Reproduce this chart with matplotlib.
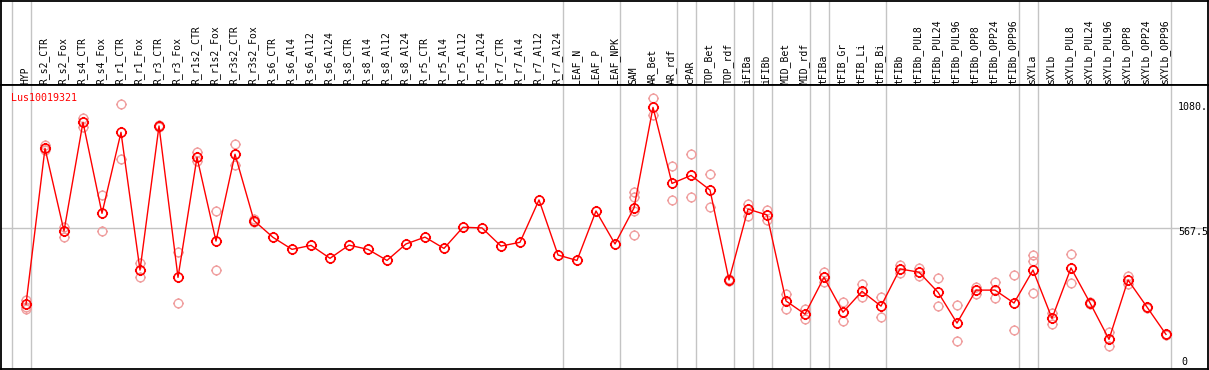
import matplotlib
matplotlib.use("Agg")
from matplotlib import pyplot as plt
from matplotlib.path import Path
import numpy as np

gene = "Lus10019321"

samples = ["HYP", "R_s2_CTR", "R_s2_Fox", "R_s4_CTR", "R_s4_Fox", "R_r1_CTR", "R_r1_Fox",
           "R_r3_CTR", "R_r3_Fox", "R_r1s2_CTR", "R_r1s2_Fox", "R_r3s2_CTR", "R_r3s2_Fox",
           "R_s6_CTR", "R_s6_Al4", "R_s6_Al12", "R_s6_Al24", "R_s8_CTR", "R_s8_Al4",
           "R_s8_Al12", "R_s8_Al24", "R_r5_CTR", "R_r5_Al4", "R_r5_Al12", "R_r5_Al24",
           "R_r7_CTR", "R_r7_Al4", "R_r7_Al12", "R_r7_Al24", "LEAF_N", "LEAF_P", "LEAF_NPK",
           "SAM", "AR_Bet", "AR_rdf", "cPAR", "TOP_Bet", "TOP_rdf", "iFIBa", "iFIBb",
           "MID_Bet", "MID_rdf", "tFIBa", "tFIB_Gr", "tFIB_Li", "tFIB_Bi", "tFIBb",
           "tFIBb_PUL8", "tFIBb_PUL24", "tFIBb_PUL96", "tFIBb_OPP8", "tFIBb_OPP24",
           "tFIBb_OPP96", "sXYLa", "sXYLb", "sXYLb_PUL8", "sXYLb_PUL24", "sXYLb_PUL96",
           "sXYLb_OPP8", "sXYLb_OPP24", "sXYLb_OPP96"]

# mean expression per sample
means = [244, 906, 555, 1017, 630, 974, 389, 1001, 358, 868, 512, 881, 599,
         528, 477, 494, 439, 495, 477, 430, 500, 529, 481, 571, 568, 491, 507, 687, 453,
         430, 640, 500, 653, 1080, 757, 791, 729, 347, 648, 623, 258, 202, 358, 210,
         299, 236, 394, 380, 295, 164, 304, 304, 249, 389, 184, 398, 250, 95, 347, 232, 116]

# replicate values (only the ones visible apart from the mean)
reps = [[262, 233, 224], [920, 899], [573, 531], [1036, 998], [706, 554], [1093, 859],
        [418, 361], [1003, 995], [464, 248], [890, 852], [639, 388], [923, 835], [604, 593],
        [], [], [], [], [], [], [], [], [], [], [], [], [], [], [], [], [], [], [],
        [722, 700, 641, 538], [1118, 1048], [830, 685], [881, 698], [797, 657], [353, 341],
        [671, 619], [644, 602], [287, 225], [225, 180], [381, 340], [252, 171], [330, 276],
        [275, 188], [412, 377], [399, 362], [354, 235], [241, 87], [317, 289], [338, 269],
        [368, 135], [453, 426, 292], [205, 159], [457, 334], [254, 245], [126, 68],
        [364, 330], [234, 230], [118, 114]]

# group separators drawn after these sample indices
groups_after = [-1, 0, 28, 31, 34, 35, 37, 38, 39, 41, 42, 45, 52, 53, 60]

axis_labels = [(1080, "1080."), (567.5, "567.5"), (0, "0")]

# gear like marker: circle with four small ticks
circ = Path.unit_circle()
ticks = Path([(0, 1), (0, 1.25), (0, -1), (0, -1.25), (1, 0), (1.25, 0), (-1, 0), (-1.25, 0)],
             [Path.MOVETO, Path.LINETO] * 4)
gear = Path.make_compound_path(circ, ticks)

W, H = 1209, 370
fig = plt.figure(figsize=(W / 100, H / 100), dpi=100)
mono = "DejaVu Sans Mono"

def px(x0, y0, x1, y1):
    return [x0 / W, 1 - y1 / H, (x1 - x0) / W, (y1 - y0) / H]

xl = ((1 - 26) / 19, (1208 - 26) / 19)

head = fig.add_axes(px(1, 0.6, 1208, 85))
ax = fig.add_axes(px(1, 85, 1208, 369))
for a in (head, ax):
    a.set_xlim(*xl)
    a.set_xticks([])
    a.set_yticks([])
    for s in a.spines.values():
        s.set_linewidth(1.3)
        s.set_color("black")
head.set_ylim(85, 0)
ax.set_ylim((361.7 - 369) / 0.2355, (361.7 - 85) / 0.2355)

x = np.arange(len(samples))
for i, name in enumerate(samples):
    head.text(i - 0.05, 83.5, name, rotation=90, ha="center", va="bottom",
              fontsize=7, family=mono)

for g in groups_after:
    for a in (head, ax):
        a.axvline(g + 0.25, color="#c4c4c4", lw=1.0, zorder=0)
ax.axhline(567.5, color="#c4c4c4", lw=1.0, zorder=0)

for i, r in enumerate(reps):
    if r:
        ax.plot([i] * len(r), r, ls="none", marker=gear, ms=7.8, mfc="none",
                mec="#f0a0a0", mew=1.0, zorder=2)
ax.plot(x, means, color="red", lw=1.0, marker=gear, ms=8.0, mfc="none",
        mec="red", mew=1.2, zorder=3)

ax.text(0.008, 0.955, gene, transform=ax.transAxes, color="red", fontsize=7.2,
        family=mono, ha="left", va="center")

for v, lab in axis_labels:
    xp = 1178 if lab != "0" else 1181
    yv = v - 15 if lab == "567.5" else v
    ax.text((xp - 26) / 19, yv, lab, ha="left", va="center", fontsize=7.2, family=mono)

fig.savefig("out.png", dpi=100)
